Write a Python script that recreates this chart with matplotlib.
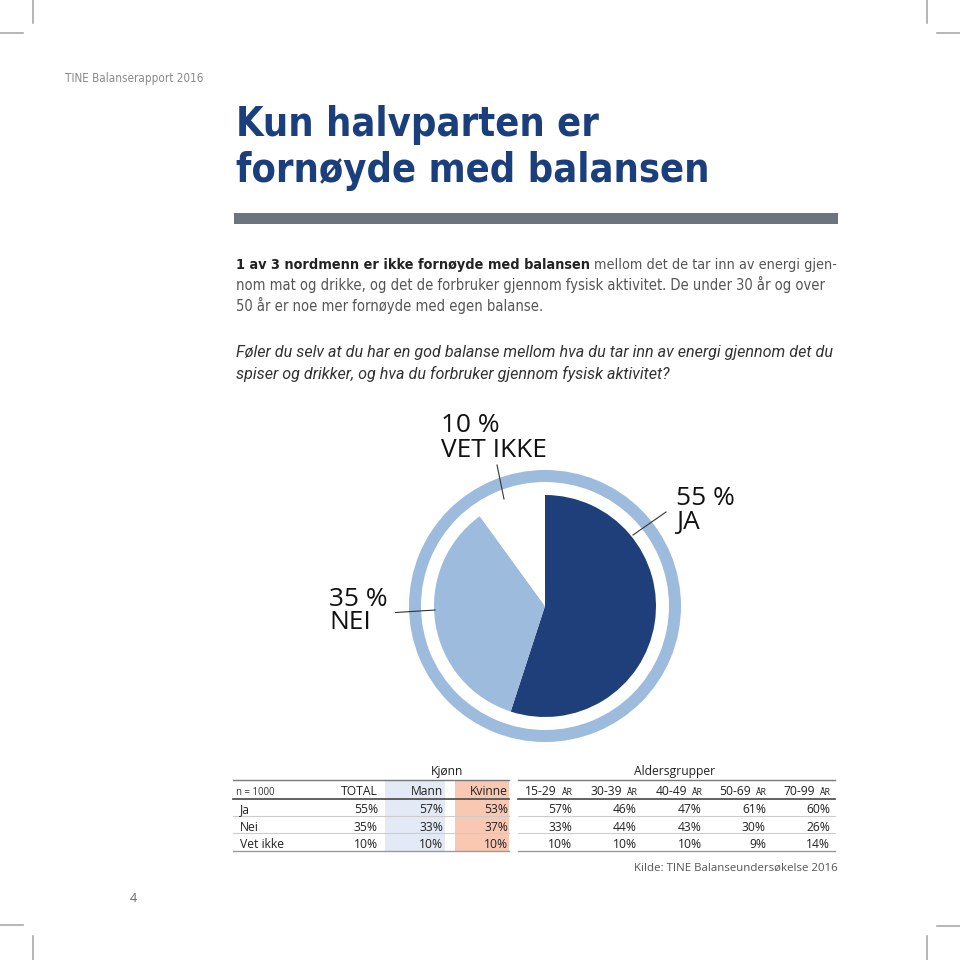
import matplotlib
matplotlib.use("Agg")
import matplotlib.pyplot as plt
from matplotlib import font_manager
from matplotlib.font_manager import FontProperties
from matplotlib.patches import Rectangle

# --- data ---
pie_labels = ["JA", "NEI", "VET IKKE"]
pie_values = [55, 35, 10]
pie_colors = ["#1f3f7b", "#9cbbdd", "#ffffff"]

row_labels = ["Ja", "Nei", "Vet ikke"]
col_labels = ["TOTAL", "Mann", "Kvinne", "15-29", "30-39", "40-49", "50-69", "70-99"]
total = [55, 35, 10]
mann = [57, 33, 10]
kvinne = [53, 37, 10]
age_15_29 = [57, 33, 10]
age_30_39 = [46, 44, 10]
age_40_49 = [47, 43, 10]
age_50_69 = [61, 30, 9]
age_70_99 = [60, 26, 14]
columns = [total, mann, kvinne, age_15_29, age_30_39, age_40_49, age_50_69, age_70_99]


# --- fonts: look for a condensed face, else Roboto ---
def wnum(w):
    return w if isinstance(w, int) else font_manager.weight_dict.get(w, 400)


def find_condensed(bold, italic=False):
    hits = []
    for f in font_manager.fontManager.ttflist:
        narrow = ("Condensed" in f.name or "Narrow" in f.name
                  or f.stretch in ("condensed", "semi-condensed")
                  or "Condensed" in f.fname or "Narrow" in f.fname)
        if not narrow or "Extra" in f.fname or "Ultra" in f.fname:
            continue
        w = wnum(f.weight)
        if (w >= 600) != bold or (f.style != "normal") != italic:
            continue
        if not bold and w < 350:
            continue
        rank = 0 if "Noto" in f.fname else 1 if "Liberation" in f.fname else 2
        hits.append((rank, abs(w - (700 if bold else 400)), f.fname))
    hits.sort()
    return hits[0][2] if hits else None


def fprops(bold=False, italic=False, fallback="Roboto"):
    path = find_condensed(bold, italic)
    if path:
        return FontProperties(fname=path)
    return FontProperties(family=fallback, weight="bold" if bold else "normal",
                          style="italic" if italic else "normal")


TITLE_FP = fprops(bold=True)
PARA_FP = fprops()
PARA_B_FP = fprops(bold=True)
BODY = "Open Sans"

fig = plt.figure(figsize=(9.6, 9.6), dpi=100)
ax = fig.add_axes([0, 0, 1, 1])
ax.set_xlim(0, 960)
ax.set_ylim(960, 0)
ax.axis("off")
renderer = fig.canvas.get_renderer()


def fit(t, w):
    bb = t.get_window_extent(renderer)
    t.set_fontsize(t.get_fontsize() * w / bb.width)
    return t


def right_edge(t):
    return t.get_window_extent(renderer).x1


# crop marks
mark = dict(color="#aaaaaa", lw=1.2)
for x in (33, 927):
    ax.plot([x, x], [0, 23], **mark)
    ax.plot([x, x], [936, 960], **mark)
ax.plot([0, 23], [33, 33], **mark)
ax.plot([937, 960], [33, 33], **mark)
ax.plot([0, 23], [925, 925], **mark)
ax.plot([937, 960], [926, 926], **mark)

# header
fit(ax.text(65, 82, "TINE Balanserapport 2016", fontproperties=PARA_FP.copy(),
            fontsize=10, color="#8a8a8a", va="baseline"), 137)
ax.text(133, 902, "4", fontsize=9, family=BODY, color="#666666", ha="center", va="baseline")

# title
t1 = ax.text(236, 136, "Kun halvparten er", fontproperties=TITLE_FP.copy(),
             fontsize=36, color="#1b3f7c", va="baseline")
fit(t1, 362)
ax.text(236, 182, "fornøyde med balansen", fontproperties=TITLE_FP.copy(),
        fontsize=t1.get_fontsize(), color="#1b3f7c", va="baseline")
ax.add_patch(Rectangle((234, 213), 604, 11, color="#6c757d", lw=0))

# intro paragraph
lines = ["nom mat og drikke, og det de forbruker gjennom fysisk aktivitet. "
         "De under 30 år og over",
         "50 år er noe mer fornøyde med egen balanse."]
l2 = ax.text(236, 290, lines[0], fontproperties=PARA_FP.copy(), fontsize=12,
             color="#555555", va="baseline")
fit(l2, 586)
pfs = l2.get_fontsize()
ax.text(236, 311, lines[1], fontproperties=PARA_FP.copy(), fontsize=pfs,
        color="#555555", va="baseline")
b = ax.text(236, 269, "1 av 3 nordmenn er ikke fornøyde med balansen",
            fontproperties=PARA_B_FP.copy(), fontsize=pfs, color="#222222", va="baseline")
r1 = ax.text(right_edge(b) + 4, 269, "mellom det de tar inn av energi gjen-",
             fontproperties=PARA_FP.copy(), fontsize=pfs, color="#555555", va="baseline")
k = (838 - 236) / (right_edge(r1) - 236)
b.set_fontsize(pfs * k)
r1.set_fontsize(pfs * k)
r1.set_x(right_edge(b) + 4)

# question
q1 = ax.text(236, 357, "Føler du selv at du har en god balanse mellom hva du tar inn av "
             "energi gjennom det du", fontsize=12, family="Roboto", style="italic",
             color="#333333", va="baseline")
fit(q1, 596)
ax.text(236, 379, "spiser og drikker, og hva du forbruker gjennom fysisk aktivitet?",
        fontsize=q1.get_fontsize(), family="Roboto", style="italic",
        color="#333333", va="baseline")

# pie labels
lab = dict(family=BODY, color="#111111", va="baseline")
v = fit(ax.text(441, 457, "VET IKKE", fontsize=18, **lab), 106)
fs = v.get_fontsize()
ax.text(441, 432, f"{pie_values[2]} %", fontsize=fs, **lab)
ax.text(676, 505, f"{pie_values[0]} %", fontsize=fs, **lab)
ax.text(676, 529, pie_labels[0], fontsize=fs, **lab)
ax.text(329, 606, f"{pie_values[1]} %", fontsize=fs, **lab)
ax.text(329, 629, pie_labels[1], fontsize=fs, **lab)

# pie
pax = fig.add_axes([(545 - 150) / 960, (960 - 606 - 150) / 960, 300 / 960, 300 / 960])
pax.pie([1], radius=136, colors=["#9cbbdd"], wedgeprops=dict(width=12, linewidth=0))
pax.pie(pie_values, radius=111, colors=pie_colors, startangle=90, counterclock=False,
        wedgeprops=dict(linewidth=0))
pax.set_xlim(-150, 150)
pax.set_ylim(-150, 150)
pax.set_aspect("equal")
pax.axis("off")
lead = dict(color="#333333", lw=0.8)
pax.plot([88, 121], [71, 94], **lead)
pax.plot([-41, -48], [107, 141], **lead)
pax.plot([-110, -157], [-4, -7], **lead)

# table
col_right = [378, 443, 508, 572, 637, 702, 766, 830]
row_base = [813, 831, 848]
head_base = 795
ax.add_patch(Rectangle((385, 780), 60, 71, color="#e3eaf5", lw=0, zorder=0))
ax.add_patch(Rectangle((455, 780), 54, 71, color="#f9c8b3", lw=0, zorder=0))

for x0, x1 in ((233, 509), (518, 835)):
    ax.plot([x0, x1], [780, 780], color="#777777", lw=1.0)
    ax.plot([x0, x1], [799, 799], color="#555555", lw=1.3)
    ax.plot([x0, x1], [816, 816], color="#cccccc", lw=0.8)
    ax.plot([x0, x1], [833, 833], color="#cccccc", lw=0.8)
    ax.plot([x0, x1], [851, 851], color="#999999", lw=1.0)

tt = fit(ax.text(240, row_base[2], row_labels[2], fontsize=10, family=BODY,
                 color="#222222", va="baseline"), 44)
tfs = tt.get_fontsize()
cell = dict(fontsize=tfs, family=BODY, color="#222222", va="baseline")
for i, lbl in enumerate(row_labels[:2]):
    ax.text(240, row_base[i], lbl, **cell)
ax.text(236, head_base, "n = 1000", fontsize=tfs * 0.8, family=BODY, color="#333333",
        va="baseline")
ax.text(447, 775, "Kjønn", ha="center", **cell)
ax.text(675, 775, "Aldersgrupper", ha="center", **cell)

for j, (xr, name, vals) in enumerate(zip(col_right, col_labels, columns)):
    if j < 3:
        ax.text(xr, head_base, name, ha="right", **cell)
    else:
        s = ax.text(xr, head_base, "ÅR", ha="right", fontsize=tfs * 0.72, family=BODY,
                    color="#222222", va="baseline")
        x_left = s.get_window_extent(renderer).x0
        ax.text(x_left - 4, head_base, name, ha="right", **cell)
    for i, val in enumerate(vals):
        ax.text(xr, row_base[i], f"{val}%", ha="right", **cell)

ax.text(838, 871, "Kilde: TINE Balanseundersøkelse 2016", ha="right",
        fontsize=tfs * 0.95, family=BODY, color="#555555", va="baseline")

fig.savefig("out.png", dpi=100)
